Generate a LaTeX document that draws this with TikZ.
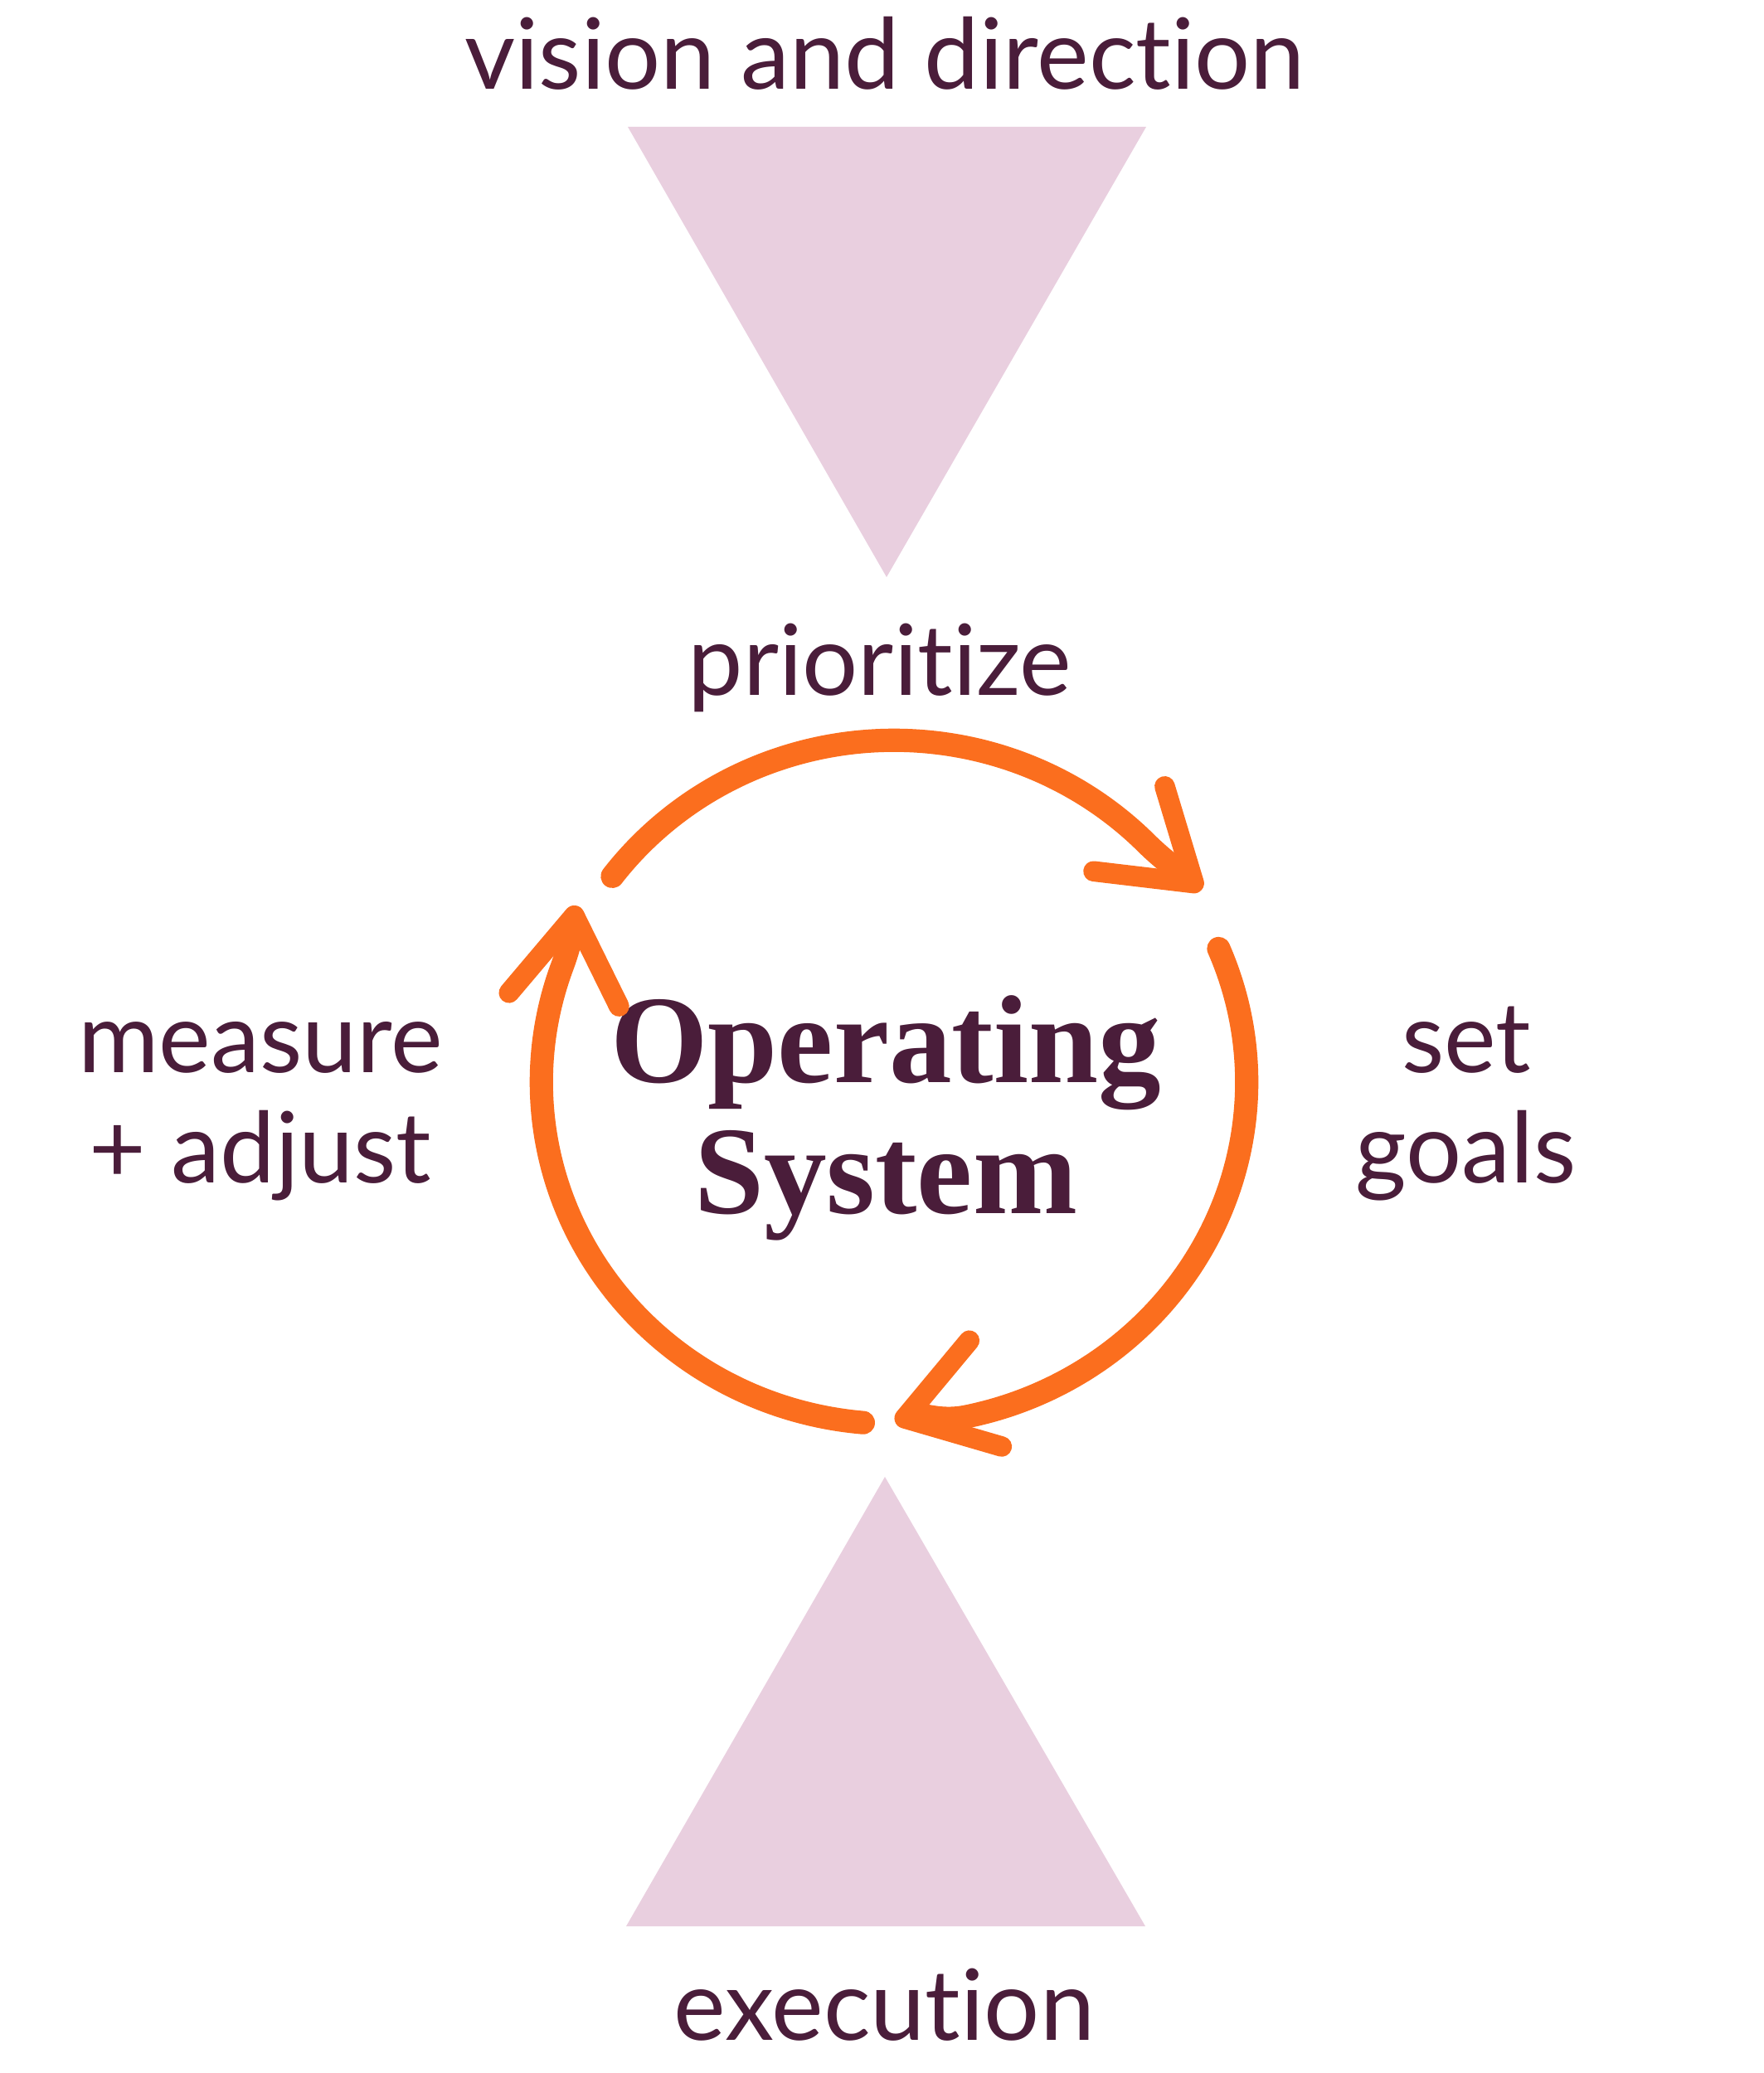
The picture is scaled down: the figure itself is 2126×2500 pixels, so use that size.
\documentclass[tikz,border=0pt]{standalone}
\usepackage{fontspec}
\setmainfont[Ligatures=NoCommon]{Lato}
\newfontfamily\titlefont{Liberation Serif}
\usetikzlibrary{arrows.meta}

\definecolor{plum}{HTML}{4A1D3A}
\definecolor{blush}{HTML}{E9CFDF}
\definecolor{tangerine}{HTML}{FB6E1E}

\begin{document}
\begin{tikzpicture}[x=0.01cm, y=-0.01cm,
                    every node/.style={text=plum, inner sep=0pt},
                    label/.style={font=\fontsize{33.7}{37.8}\selectfont,
                      anchor=base, align=center},
                    title/.style={font=\titlefont\bfseries\fontsize{43}{44.7}\selectfont,
                      anchor=base, align=center},
                    wedge/.style={fill=blush},
                    cycle arrow/.style={draw=tangerine,
                      line width=8pt,
                      line cap=round,
                      -{Straight Barb[round, length=29pt, width=38pt, line width=7pt]}}]
\useasboundingbox (0,0) rectangle (2126,2500);
% funnels
\coordinate (top left) at (757,153);
\coordinate (top right) at (1382,153);
\coordinate (top tip) at (1069,696);
\coordinate (bot tip) at (1067,1781);
\coordinate (bot left) at (755,2323);
\coordinate (bot right) at (1381,2323);
\fill[wedge] (top left) -- (top right) -- (top tip) -- cycle;
\fill[wedge] (bot tip) -- (bot right) -- (bot left) -- cycle;
% labels (multi-line nodes sit on their last line)
\node[label] (vision) at (1067,108) {vision and direction};
\node[label] (prio) at (1061,838) {prioritize};
\node[label] (measure) at (314,1426) {measure\\+ adjust};
\node[label] (goals) at (1768,1426) {set\\goals};
\node[label] (exec) at (1066,2460) {execution};
\node[title] (os) at (1068,1463) {Operating\\System};
% cycle
\coordinate (c) at (1078,1305);
\path (c) ++(143:4.25cm and 4.12cm) coordinate (prio start);
\path (c) ++(23:4.25cm and 4.12cm) coordinate (goals start);
\path (c) ++(-95:4.25cm and 4.12cm) coordinate (measure start);
\coordinate (prio tip) at (1449,1073);
\coordinate (goals tip) at (1079,1714);
\coordinate (measure tip) at (694,1092);
\draw[cycle arrow] (prio start) arc[start angle=143, end angle=45,
  x radius=4.25cm, y radius=4.12cm] to[out=-45, in=140] (prio tip);
\draw[cycle arrow] (goals start) arc[start angle=23, end angle=-78,
  x radius=4.25cm, y radius=4.12cm] to[out=192, in=17] (goals tip);
\draw[cycle arrow] (measure start) arc[start angle=-95, end angle=-200,
  x radius=4.25cm, y radius=4.12cm] to[out=70, in=-97] (measure tip);
\end{tikzpicture}
\end{document}
